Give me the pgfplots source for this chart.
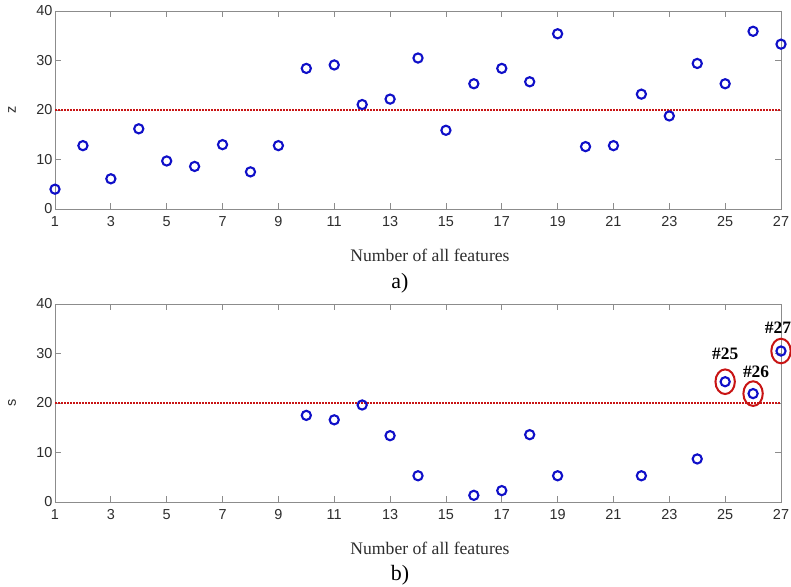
\documentclass[border=0pt]{standalone}
\usepackage{fontspec}
\setmainfont{Liberation Serif}
\setsansfont{Liberation Sans}
\usepackage{pgfplots}
\pgfplotsset{compat=1.18}
\definecolor{mblue}{RGB}{15,15,200}
\definecolor{mred}{RGB}{200,20,20}
\definecolor{axgray}{RGB}{140,140,140}
\definecolor{tickgray}{RGB}{45,45,45}

\pgfplotsset{mystyle/.style={
  width=726bp, height=198bp, scale only axis,
  xmin=1, xmax=27, ymin=0, ymax=40,
  xtick={1,3,...,27}, ytick={0,10,...,40},
  tick align=inside, xtick pos=both, ytick pos=both,
  xticklabel pos=bottom, yticklabel pos=left,
  major tick length=6bp,
  axis line style={axgray, line width=0.8bp},
  every tick/.style={axgray, line width=0.8bp},
  tick label style={font=\sffamily\fontsize{14.5}{17}\selectfont, text=tickgray},
  xticklabel style={yshift=-4bp},
  yticklabel style={xshift=1bp},
  /pgf/number format/assume math mode=true,
  clip=false,
  xlabel={Number of all features},
  xlabel style={font=\fontsize{17.7}{20}\selectfont, text=tickgray, at={(axis description cs:0.5,0)}, anchor=center, yshift=-46bp, xshift=12bp},
  ylabel style={font=\sffamily\fontsize{14.5}{16}\selectfont, text=tickgray, at={(axis description cs:0,0.5)}, anchor=center, yshift=43bp, xshift=0bp},
}}

\begin{document}
\begin{tikzpicture}
\useasboundingbox (0,0) rectangle (791bp,587bp);
% top panel
\begin{axis}[mystyle, at={(55bp,378bp)}, anchor=south west, ylabel={z}]
\addplot[mred, line width=2bp, dash pattern=on 1.6bp off 1.4bp] coordinates {(1,20) (27,20)};
\addplot[only marks, mark=o, mark size=4.6bp, mark options={mblue, line width=2.1bp}] table {
x y
1 4.0
2 12.8
3 6.1
4 16.2
5 9.7
6 8.6
7 13.0
8 7.5
9 12.8
10 28.4
11 29.1
12 21.1
13 22.2
14 30.5
15 15.9
16 25.3
17 28.4
18 25.7
19 35.4
20 12.6
21 12.8
22 23.2
23 18.8
24 29.4
25 25.3
26 35.9
27 33.3
};
\end{axis}
\node[font=\fontsize{22}{24}\selectfont] at (400bp,304bp) {a)};
% bottom panel
\begin{axis}[mystyle, at={(55bp,85bp)}, anchor=south west, ylabel={s}]
\addplot[mred, line width=2bp, dash pattern=on 1.6bp off 1.4bp] coordinates {(1,20) (27,20)};
\addplot[only marks, mark=o, mark size=4.6bp, mark options={mblue, line width=2.1bp}] table {
x y
10 17.5
11 16.6
12 19.6
13 13.4
14 5.3
16 1.35
17 2.3
18 13.6
19 5.3
22 5.3
24 8.7
25 24.3
26 21.9
27 30.5
};
\addplot[only marks, mark=o, mark size=9.7bp, mark options={mred, line width=2bp, yscale=1.27},
  point meta=x,
  nodes near coords={\#\pgfmathprintnumber{\pgfplotspointmeta}},
  visualization depends on={\thisrow{dx} \as \dx},
  visualization depends on={\thisrow{dy} \as \dy},
  every node near coord/.append style={anchor=center, xshift={\dx*1bp}, yshift={\dy*1bp}, font=\bfseries\fontsize{17.5}{20}\selectfont, text=black}]
  table {
x y dx dy
25 24.3 0 28
26 21.9 3 22
27 30.5 -3 23
};
\end{axis}
\node[font=\fontsize{22}{24}\selectfont] at (400bp,12bp) {b)};
\end{tikzpicture}
\end{document}
